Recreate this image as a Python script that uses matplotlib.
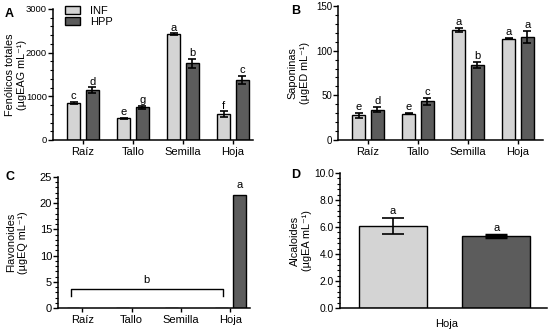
import matplotlib
matplotlib.use("Agg")
import matplotlib.pyplot as plt
from matplotlib.ticker import AutoMinorLocator
import numpy as np

plt.rcParams['font.family'] = ['Liberation Sans', 'DejaVu Sans']
plt.rcParams['font.size'] = 7.5

categories = ["Raíz", "Tallo", "Semilla", "Hoja"]
series = ["INF", "HPP"]

# Panel A: Fenólicos totales
fen_inf = [845, 500, 2425, 595]
fen_inf_err = [30, 15, 15, 60]
fen_hpp = [1135, 750, 1760, 1375]
fen_hpp_err = [70, 30, 100, 100]
fen_lab_inf = ["c", "e", "a", "f"]
fen_lab_hpp = ["d", "g", "b", "c"]

# Panel B: Saponinas
sap_inf = [27.5, 29.5, 123, 113.5]
sap_inf_err = [3, 0.5, 2, 1]
sap_hpp = [34, 43.5, 84, 115.5]
sap_hpp_err = [3, 4, 3, 7]
sap_lab_inf = ["e", "e", "a", "a"]
sap_lab_hpp = ["d", "c", "b", "a"]

# Panel C: Flavonoides (only Hoja HPP detected)
fla_inf = [0, 0, 0, 0]
fla_hpp = [0, 0, 0, 21.5]
fla_bracket_label = "b"
fla_top_label = "a"

# Panel D: Alcaloides (Hoja only)
alc_category = "Hoja"
alc_vals = [6.08, 5.36]
alc_err = [0.62, 0.07]
alc_labels = ["a", "a"]

c_inf = "#d4d4d4"
c_hpp = "#5c5c5c"

W, H = 549, 330
fig = plt.figure(figsize=(W / 100, H / 100), dpi=100)


def add_ax(x0, x1, ytop, ybot):
    return fig.add_axes([x0 / W, (H - ybot) / H, (x1 - x0) / W, (ybot - ytop) / H])


def style(ax, ytick_fs):
    for s in ["top", "right"]:
        ax.spines[s].set_visible(False)
    for s in ["left", "bottom"]:
        ax.spines[s].set_linewidth(1.1)
    ax.tick_params(axis="y", which="major", length=3.5, width=1.0, pad=0.8, labelsize=ytick_fs)
    ax.tick_params(axis="y", which="minor", length=2, width=0.8)
    ax.tick_params(axis="x", which="major", length=3, width=1.0, pad=2)
    ax.yaxis.set_minor_locator(AutoMinorLocator(5))


off = 0.185
bw = 0.26
x = np.arange(len(categories))
ekw = dict(elinewidth=1.2, capsize=3, capthick=1.2, ecolor="black")


def grouped(ax, inf, inf_e, hpp, hpp_e, lab_i, lab_h, gap):
    ax.bar(x - off, inf, bw, color=c_inf, edgecolor="black", linewidth=1.0,
           yerr=inf_e, error_kw=ekw, label=series[0], zorder=2)
    ax.bar(x + off, hpp, bw, color=c_hpp, edgecolor="black", linewidth=1.0,
           yerr=hpp_e, error_kw=ekw, label=series[1], zorder=2)
    for i in range(len(x)):
        ax.text(x[i] - off, inf[i] + inf_e[i] + gap, lab_i[i], ha="center", va="bottom", fontsize=8)
        ax.text(x[i] + off, hpp[i] + hpp_e[i] + gap, lab_h[i], ha="center", va="bottom", fontsize=8)
    ax.set_xticks(x)
    ax.set_xticklabels(categories, fontsize=8)


def ylab(ax, text, xpos):
    ax.set_ylabel(text, fontsize=7.8, linespacing=1.3)
    ax.yaxis.set_label_coords(xpos, 0.5)


# A
axA = add_ax(53, 253, 9, 140)
grouped(axA, fen_inf, fen_inf_err, fen_hpp, fen_hpp_err, fen_lab_inf, fen_lab_hpp, 20)
axA.set_xlim(-0.6, 3.4)
axA.set_ylim(0, 3000)
axA.set_yticks([0, 1000, 2000, 3000])
style(axA, 6.8)
ylab(axA, "Fenólicos totales\n(µgEAG mL⁻¹)", -0.13)
axA.legend(loc="upper left", bbox_to_anchor=(0.04, 1.06), frameon=False, fontsize=8,
           handlelength=1.3, handleheight=0.7, labelspacing=0.15, handletextpad=0.9,
           borderaxespad=0)
fig.text(5 / W, 1 - 14 / H, "A", fontsize=9, fontweight="bold", va="center")

# B
axB = add_ax(338, 543, 6, 140)
grouped(axB, sap_inf, sap_inf_err, sap_hpp, sap_hpp_err, sap_lab_inf, sap_lab_hpp, 1)
axB.set_xlim(-0.6, 3.5)
axB.set_ylim(0, 150)
axB.set_yticks([0, 50, 100, 150])
style(axB, 7)
ylab(axB, "Saponinas\n(µgED mL⁻¹)", -0.137)
fig.text(291 / W, 1 - 11 / H, "B", fontsize=9, fontweight="bold", va="center")

# C
axC = add_ax(58, 250, 177, 308)
axC.bar(x - off, fla_inf, bw, color=c_inf, edgecolor="black", linewidth=1.0, zorder=2)
axC.bar(x[3:] + off, fla_hpp[3:], bw, color=c_hpp, edgecolor="black", linewidth=1.0, zorder=2)
axC.text(x[3] + off, fla_hpp[3] + 1, fla_top_label, ha="center", va="bottom", fontsize=8)
bx0, bx1 = x[0] - off - 0.05, x[3] - off + 0.03
axC.plot([bx0, bx0, bx1, bx1], [2.2, 3.7, 3.7, 2.2], color="black", lw=1.0)
axC.text((bx0 + bx1) / 2, 4.4, fla_bracket_label, ha="center", va="bottom", fontsize=8)
axC.set_xticks(x)
axC.set_xticklabels(categories, fontsize=8)
axC.set_xlim(-0.49, 3.4)
axC.set_ylim(0, 25)
axC.set_yticks([0, 5, 10, 15, 20, 25])
style(axC, 8)
ylab(axC, "Flavonoides\n(µgEQ mL⁻¹)", -0.156)
fig.text(5 / W, 1 - 177 / H, "C", fontsize=9, fontweight="bold", va="center")

# D
axD = add_ax(340, 547, 173, 308)
xd = np.array([-0.49, 0.51])
axD.bar(xd[0], alc_vals[0], 0.66, color=c_inf, edgecolor="black", linewidth=1.0,
        yerr=alc_err[0], error_kw=dict(elinewidth=1.2, capsize=8, capthick=1.2, ecolor="black"), zorder=2)
axD.bar(xd[1], alc_vals[1], 0.66, color=c_hpp, edgecolor="black", linewidth=1.0,
        yerr=alc_err[1], error_kw=dict(elinewidth=2.5, capsize=8, capthick=2.5, ecolor="black"), zorder=2)
for i in range(2):
    axD.text(xd[i], alc_vals[i] + alc_err[i] + 0.1, alc_labels[i], ha="center", va="bottom", fontsize=8)
axD.set_xlim(-1, 1)
axD.set_ylim(0, 10)
axD.set_yticks([0, 2, 4, 6, 8, 10])
axD.set_yticklabels(["0.0", "2.0", "4.0", "6.0", "8.0", "10.0"])
axD.set_xticks([0.03])
axD.set_xticklabels([alc_category], fontsize=8)
style(axD, 7.4)
axD.tick_params(axis="x", length=0, pad=8)
ylab(axD, "Alcaloides\n(µgEA mL⁻¹)", -0.135)
fig.text(291 / W, 1 - 175 / H, "D", fontsize=9, fontweight="bold", va="center")

fig.savefig("out.png", dpi=100)
